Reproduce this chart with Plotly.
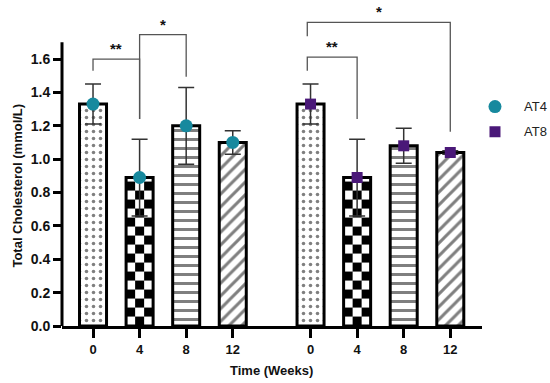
import numpy as np
import plotly.graph_objects as go

# ---- data ----
week_labels = ["0", "4", "8", "12"]
series_names = ["AT4", "AT8"]
at4_mean = [1.33, 0.89, 1.20, 1.10]
at4_err = [0.12, 0.23, 0.23, 0.07]
at8_mean = [1.33, 0.89, 1.08, 1.04]
at8_err = [0.12, 0.23, 0.105, 0.01]

# category positions (two groups of four bars)
pos_at4 = [0, 1, 2, 3]
pos_at8 = [4.67, 5.67, 6.67, 7.67]

teal = "#17899E"
purple = "#4A1878"
FONT = "Liberation Sans, Arial, sans-serif"
BAR_W = 0.58

fig = go.Figure()

patterns = [
    dict(shape=".", size=7, solidity=0.2),
    None,  # checkerboard (drawn as heatmap)
    dict(shape="-", size=9, solidity=0.34),
    dict(shape="/", size=9, solidity=0.33),
]

all_pos = pos_at4 + pos_at8
all_mean = at4_mean + at8_mean

# checkerboard underlays
cell_h = 0.054
for p, v, k in zip(all_pos, all_mean, list(range(4)) * 2):
    if k != 1:
        continue
    xe = np.linspace(p - BAR_W / 2, p + BAR_W / 2, 4)
    ye = list(np.arange(0, v, cell_h))
    if v - ye[-1] < 1e-6:
        ye = ye[:-1]
    ye.append(v)
    nr = len(ye) - 1
    z = [[(i + j) % 2 for j in range(3)] for i in range(nr)]
    fig.add_trace(go.Heatmap(x=xe, y=ye, z=z, zmin=0, zmax=1,
                             colorscale=[[0, "white"], [1, "black"]],
                             showscale=False, hoverinfo="skip", showlegend=False))

# bars
for p, v, k in zip(all_pos, all_mean, list(range(4)) * 2):
    pat = patterns[k]
    if pat is None:
        marker = dict(color="rgba(0,0,0,0)", line=dict(color="black", width=3))
    else:
        marker = dict(color="white", line=dict(color="black", width=3),
                      pattern=dict(fgcolor="black", bgcolor="white", fillmode="overlay", **pat))
    fig.add_trace(go.Bar(x=[p], y=[v], width=BAR_W, marker=marker,
                         showlegend=False, hoverinfo="skip"))

# mean markers with error bars (legend shows symbol only; label text is an annotation)
fig.add_trace(go.Scatter(x=pos_at4, y=at4_mean, mode="markers", name="\u00a0",
                         marker=dict(symbol="circle", size=13, color=teal),
                         error_y=dict(type="data", array=at4_err, color="#333333",
                                      thickness=1.5, width=8),
                         legend="legend", hovertext=series_names[0]))
fig.add_trace(go.Scatter(x=pos_at8, y=at8_mean, mode="markers", name="\u00a0",
                         marker=dict(symbol="square", size=11, color=purple),
                         error_y=dict(type="data", array=at8_err, color="#333333",
                                      thickness=1.5, width=8),
                         legend="legend2", hovertext=series_names[1]))

# significance brackets
brackets = [
    # (x_left, y_left_start, x_right, y_right_end, y_top, label)
    (0, 1.53, 1, 1.24, 1.60, "**"),
    (1, 1.24, 2, 1.494, 1.746, "*"),
    (4.6, 1.53, 5.67, 1.24, 1.612, "**"),
    (4.6, 1.736, 7.67, 1.165, 1.82, "*"),
]
shapes = []
annotations = []
for xl, yl, xr, yr, yt, lab in brackets:
    shapes.append(dict(type="path", xref="x", yref="y",
                       path=f"M {xl},{yl} L {xl},{yt} L {xr},{yt} L {xr},{yr}",
                       line=dict(color="#555555", width=1.3)))
    annotations.append(dict(x=(xl + xr) / 2, y=yt, xref="x", yref="y", text=lab,
                            showarrow=False, yanchor="bottom", xanchor="center",
                            font=dict(family=FONT, size=15, color="#111111", weight="bold")))

# manual y-axis line (stops at 1.7)
shapes.append(dict(type="line", xref="paper", yref="y", x0=0, x1=0, y0=0, y1=1.7,
                   line=dict(color="black", width=3)))

annotations.append(dict(text="Total Cholesterol (mmol/L)", textangle=-90,
                        xref="paper", yref="y", x=-0.107, y=0.842, showarrow=False,
                        xanchor="center", yanchor="middle",
                        font=dict(family=FONT, size=13, color="#111111", weight="bold")))
annotations.append(dict(text="Time (Weeks)", xref="paper", yref="paper", x=0.499, y=0,
                        yshift=-44, showarrow=False, xanchor="center", yanchor="middle",
                        font=dict(family=FONT, size=13, color="#111111", weight="bold")))
# legend labels
for name, yp in zip(series_names, [0.692, 0.613]):
    annotations.append(dict(text=name, xref="paper", yref="paper", x=1.0952, y=yp,
                            showarrow=False, xanchor="left", yanchor="middle",
                            font=dict(family=FONT, size=13, color="#222222")))

fig.update_layout(
    width=550, height=383,
    margin=dict(l=62, r=68, t=9, b=57, autoexpand=False),
    paper_bgcolor="white", plot_bgcolor="white",
    barmode="overlay",
    shapes=shapes, annotations=annotations,
    legend=dict(x=0.9833, y=0.692, xanchor="left", yanchor="middle", itemwidth=30,
                font=dict(family=FONT, size=13, color="#222222"), bgcolor="rgba(0,0,0,0)"),
    legend2=dict(x=0.9833, y=0.613, xanchor="left", yanchor="middle", itemwidth=30,
                 font=dict(family=FONT, size=13, color="#222222"), bgcolor="rgba(0,0,0,0)"),
    xaxis=dict(range=[-0.666, 8.351], tickvals=all_pos, ticktext=week_labels * 2,
               showline=True, linewidth=3, linecolor="black", ticks="outside",
               ticklen=9, tickwidth=3, tickcolor="black", showgrid=False, zeroline=False,
               tickfont=dict(family=FONT, size=13, color="#111111", weight="bold")),
    yaxis=dict(range=[0, 1.9], tickvals=[0, 0.2, 0.4, 0.6, 0.8, 1.0, 1.2, 1.4, 1.6],
               tickformat=".1f", showline=False, ticks="outside", ticklen=8, tickwidth=3,
               tickcolor="black", showgrid=False, zeroline=False,
               tickfont=dict(family=FONT, size=14, color="#111111", weight="bold")),
)

fig.write_html("out.html", config={"displayModeBar": False},
               post_script="document.body.style.margin='0';document.body.style.overflow='hidden';")
